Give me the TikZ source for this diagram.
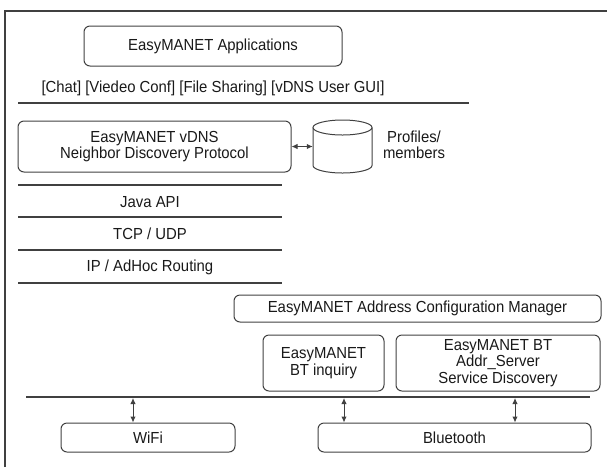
\documentclass[tikz,border=0pt]{standalone}
\usepackage{fontspec}
\setmainfont{Liberation Sans}[FakeStretch=0.93]
\usetikzlibrary{arrows.meta}
\definecolor{lc}{gray}{0.25}
\begin{document}
\begin{tikzpicture}[x=1pt,y=-1pt,
  lbl/.style={align=center, inner sep=0pt, font=\fontsize{16}{16.5}\selectfont, text=black!90},
  box/.style={lbl, draw=lc, line width=1pt, rounded corners=6pt},
  rule/.style={draw=lc, line width=1.2pt},
  darr/.style={draw=lc, line width=1pt, {Latex[length=6pt,width=5.5pt]}-{Latex[length=6pt,width=5.5pt]}}]
\useasboundingbox (0,0) rectangle (607,467);
% frame
\draw[rule] (5,467) -- (5,11) -- (607,11);
% applications
\node[box, minimum width=258, minimum height=40] (apps) at (213,46) {EasyMANET Applications};
\node[lbl] (chat) at (213,88) {[Chat] [Viedeo Conf] [File Sharing] [vDNS User GUI]};
\draw[rule] (18,103) -- (469,103);
% vDNS
\node[box, minimum width=273, minimum height=51] (vdns) at (154.5,146.5) {EasyMANET vDNS\\Neighbor Discovery Protocol};
\node[inner sep=0pt, minimum width=59, minimum height=53] (cyl) at (342.5,146.5) {};
\draw[draw=lc, line width=1pt] (342.5,127.5) ellipse [x radius=29.5, y radius=7.5];
\draw[draw=lc, line width=1pt] (313,127.5) -- (313,165.5) arc[start angle=180, end angle=0, x radius=29.5, y radius=7.5] -- (372,127.5);
\node[lbl] (prof) at (414,145) {Profiles/\\members};
\draw[darr] (vdns.east) -- (cyl.west |- vdns.east);
% stack
\draw[rule] (18,185) -- (282,185);
\node[lbl] (java) at (150,202) {Java API};
\draw[rule] (18,217) -- (282,217);
\node[lbl] (tcp) at (150,234) {TCP / UDP};
\draw[rule] (18,250) -- (282,250);
\node[lbl] (ip) at (150,267) {IP / AdHoc Routing};
\draw[rule] (18,283) -- (282,283);
% address config
\node[box, minimum width=367, minimum height=27] (acm) at (417.5,308.5) {EasyMANET Address Configuration Manager};
\node[box, minimum width=121, minimum height=56] (inq) at (323.5,363) {EasyMANET\\BT inquiry};
\node[box, minimum width=204, minimum height=56] (srv) at (498,363) {EasyMANET BT\\Addr\_Server\\Service Discovery};
% bus
\draw[rule] (26,397) -- (590,397);
\node[box, minimum width=174, minimum height=29] (wifi) at (148,437.5) {WiFi};
\node[box, minimum width=273, minimum height=29] (bt) at (454.5,437.5) {Bluetooth};
\coordinate (b1) at (133,398);
\coordinate (b2) at (344,398);
\coordinate (b3) at (515,398);
\draw[darr] (b1) -- (b1 |- wifi.north);
\draw[darr] (b2) -- (b2 |- bt.north);
\draw[darr] (b3) -- (b3 |- bt.north);
\end{tikzpicture}
\end{document}
